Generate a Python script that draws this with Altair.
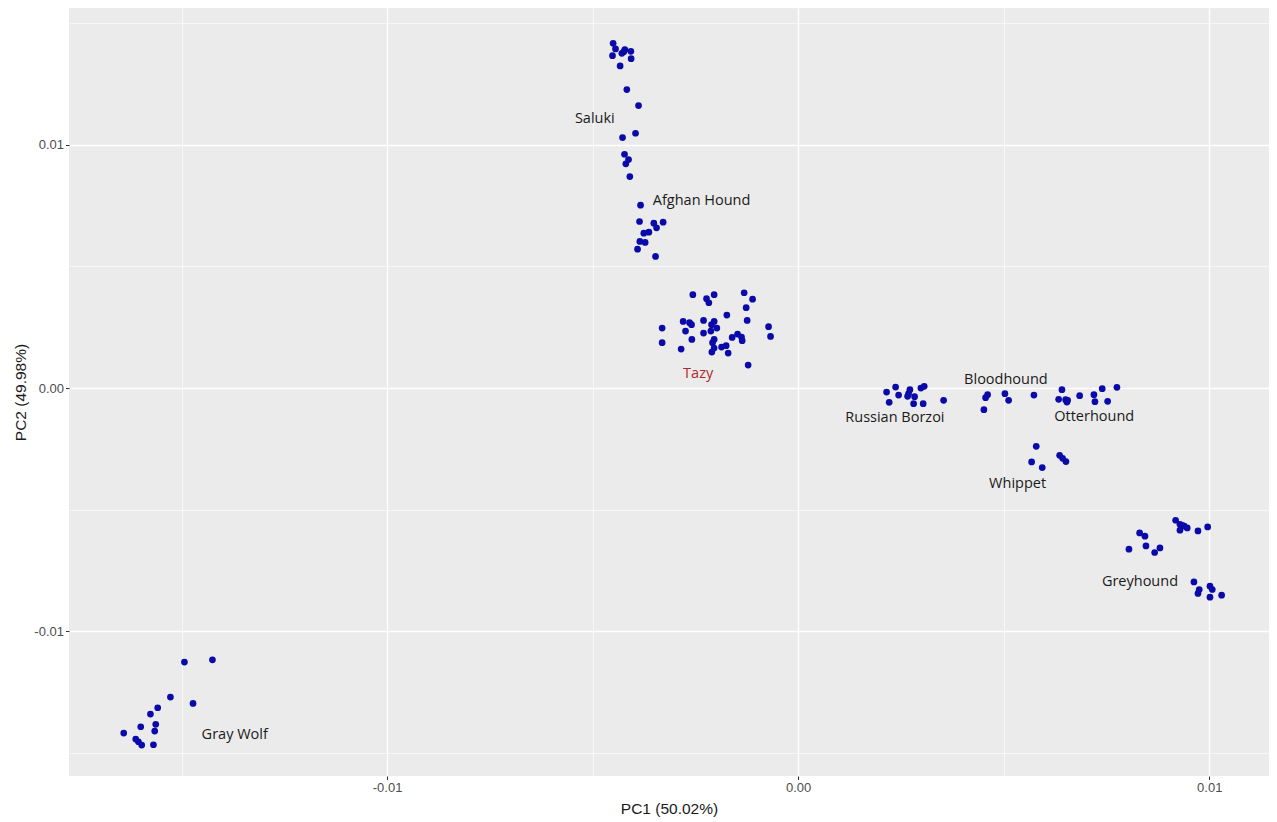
import altair as alt
import pandas as pd

# ---- data ----
saluki_x = [-0.004501, -0.004443, -0.004516, -0.004289, -0.004216, -0.004241, -0.004070, -0.004063,
            -0.004331, -0.004168, -0.003883, -0.003956, -0.004272, -0.004224, -0.004126, -0.004192, -0.004095]
saluki_y = [0.014169, 0.013939, 0.013664, 0.013758, 0.013910, 0.013828, 0.013841, 0.013541,
            0.013241, 0.012267, 0.011610, 0.010473, 0.010296, 0.009610, 0.009393, 0.009216, 0.008694]

afghan_x = [-0.003834, -0.003859, -0.003511, -0.003445, -0.003285, -0.003632, -0.003754, -0.003851,
            -0.003722, -0.003907, -0.003469]
afghan_y = [0.007516, 0.006846, 0.006777, 0.006588, 0.006818, 0.006407, 0.006366, 0.006025,
            0.005984, 0.005709, 0.005409]

tazy_x = [-0.002562, -0.002229, -0.002173, -0.002044, -0.001314, -0.001109, -0.001265, -0.001735,
          -0.001241, -0.000720, -0.000672, -0.003309, -0.003309, -0.002798, -0.002642, -0.002594,
          -0.002302, -0.002044, -0.002107, -0.001978, -0.002740, -0.002302, -0.002124, -0.002586,
          -0.002847, -0.002044, -0.002083, -0.002044, -0.002100, -0.001864, -0.001752, -0.001703,
          -0.001606, -0.001474, -0.001377, -0.001362, -0.001217]
tazy_y = [0.003836, 0.003672, 0.003507, 0.003836, 0.003918, 0.003655, 0.003302, 0.002998,
          0.002780, 0.002522, 0.002123, 0.002464, 0.001865, 0.002739, 0.002686, 0.002604,
          0.002780, 0.002739, 0.002604, 0.002464, 0.002341, 0.002259, 0.002341, 0.002000,
          0.001602, 0.002000, 0.001865, 0.001643, 0.001479, 0.001684, 0.001741, 0.001437,
          0.002082, 0.002218, 0.002095, 0.001947, 0.000945]

borzoi_x = [0.002151, 0.002370, 0.002443, 0.002214, 0.002718, 0.002686, 0.002662, 0.002832,
            0.002808, 0.002985, 0.003066, 0.003041, 0.003538]
borzoi_y = [-0.000164, 0.000041, -0.000287, -0.000587, -0.000066, -0.000230, -0.000341, -0.000353,
            -0.000641, 0.000000, 0.000070, -0.000641, -0.000505]

blood_x = [0.004608, 0.004559, 0.004518, 0.005029, 0.005119, 0.005735]
blood_y = [-0.000271, -0.000394, -0.000887, -0.000230, -0.000505, -0.000287]

otter_x = [0.006416, 0.006336, 0.006506, 0.006537, 0.006555, 0.006847, 0.007194, 0.007219,
           0.007396, 0.007528, 0.007754]
otter_y = [-0.000066, -0.000464, -0.000476, -0.000575, -0.000505, -0.000312, -0.000271, -0.000559,
           -0.000025, -0.000546, 0.000029]

whippet_x = [0.005791, 0.005679, 0.005937, 0.006360, 0.006433, 0.006513]
whippet_y = [-0.002394, -0.003039, -0.003269, -0.002764, -0.002887, -0.003023]

grey_x = [0.009182, 0.009287, 0.009343, 0.009287, 0.009464, 0.009391, 0.009725, 0.009961,
          0.008306, 0.008435, 0.008460, 0.008046, 0.008800, 0.008671, 0.009627, 0.009756,
          0.009725, 0.010017, 0.010073, 0.010017, 0.010301]
grey_y = [-0.005434, -0.005598, -0.005639, -0.005844, -0.005750, -0.005680, -0.005873, -0.005709,
          -0.005955, -0.006091, -0.006489, -0.006625, -0.006571, -0.006760, -0.007968, -0.008280,
          -0.008444, -0.008144, -0.008280, -0.008596, -0.008514]

wolf_x = [-0.014929, -0.014248, -0.015270, -0.014720, -0.015579, -0.015756, -0.015627, -0.015992,
          -0.015652, -0.016406, -0.016114, -0.016048, -0.015968, -0.015683]
wolf_y = [-0.011265, -0.011171, -0.012703, -0.012962, -0.013142, -0.013401, -0.013824, -0.013923,
          -0.014099, -0.014181, -0.014428, -0.014539, -0.014674, -0.014662]

label_names = ["Saluki", "Afghan Hound", "Tazy", "Russian Borzoi", "Bloodhound",
               "Otterhound", "Whippet", "Greyhound", "Gray Wolf"]
label_x = [-0.004946, -0.002350, -0.002433, 0.002353, 0.005054, 0.007202, 0.005338, 0.008314, -0.013706]
label_y = [0.011076, 0.007680, 0.000591, -0.001216, 0.000345, -0.001191, -0.003926, -0.007967, -0.014263]

x_ticks = [-0.015, -0.01, -0.005, 0.0, 0.005, 0.01]
y_ticks = [-0.015, -0.01, -0.005, 0.0, 0.005, 0.01, 0.015]
x_domain = [-0.017737, 0.011453]
y_domain = [-0.015947, 0.015622]

# ---- tables ----
groups = [("Saluki", saluki_x, saluki_y), ("Afghan Hound", afghan_x, afghan_y),
          ("Tazy", tazy_x, tazy_y), ("Russian Borzoi", borzoi_x, borzoi_y),
          ("Bloodhound", blood_x, blood_y), ("Otterhound", otter_x, otter_y),
          ("Whippet", whippet_x, whippet_y), ("Greyhound", grey_x, grey_y),
          ("Gray Wolf", wolf_x, wolf_y)]
rows = []
for name, xs, ys in groups:
    for a, b in zip(xs, ys):
        rows.append({"breed": name, "PC1": a, "PC2": b})
pts = pd.DataFrame(rows)
labels = pd.DataFrame({"label": label_names, "PC1": label_x, "PC2": label_y})

major = "abs(round(datum.value*1000)) % 10 == 0"
lab_expr = ("abs(round(datum.value*1000)) % 10 == 0 ? "
            "((datum.value < 0 ? '-' : '') + format(abs(datum.value), '.2f')) : ''")

common_axis = dict(
    domain=False,
    tickColor="#333333",
    tickSize=3.5,
    tickWidth=1,
    tickOpacity={"condition": {"test": major, "value": 1}, "value": 0},
    gridColor="#FFFFFF",
    gridWidth={"condition": {"test": major, "value": 1.3}, "value": 0.6},
    labelColor="#4D4D4D",
    labelFont="Liberation Sans",
    labelFontSize=13,
    labelPadding=2,
    labelExpr=lab_expr,
    titleFont="Liberation Sans",
    titleFontSize=15.5,
    titleFontWeight="normal",
    titleColor="#1A1A1A",
)

x_enc = alt.X("PC1:Q", scale=alt.Scale(domain=x_domain, nice=False, zero=False),
              axis=alt.Axis(values=x_ticks, title="PC1 (50.02%)", titlePadding=7, **common_axis))
y_enc = alt.Y("PC2:Q", scale=alt.Scale(domain=y_domain, nice=False, zero=False),
              axis=alt.Axis(values=y_ticks, title="PC2 (49.98%)", titlePadding=5, **common_axis))

points = alt.Chart(pts).mark_circle(size=45, opacity=1, color="#0A0AAA").encode(
    x=x_enc, y=y_enc
)

text = alt.Chart(labels).mark_text(font="Open Sans", fontSize=14.5, align="center", baseline="middle").encode(
    x="PC1:Q", y="PC2:Q", text="label:N",
    color=alt.condition(alt.datum.label == "Tazy", alt.value("#B02A2A"), alt.value("#1A1A1A")),
)

chart = alt.layer(points, text).properties(
    width=1200, height=768,
    background="white",
    autosize=alt.AutoSizeParams(type="none"),
    padding={"left": 61, "top": 0, "right": 0, "bottom": 42},
).configure_view(fill="#EBEBEB", strokeWidth=0)

chart.save("out.html", embed_options={"renderer": "svg", "actions": False})
